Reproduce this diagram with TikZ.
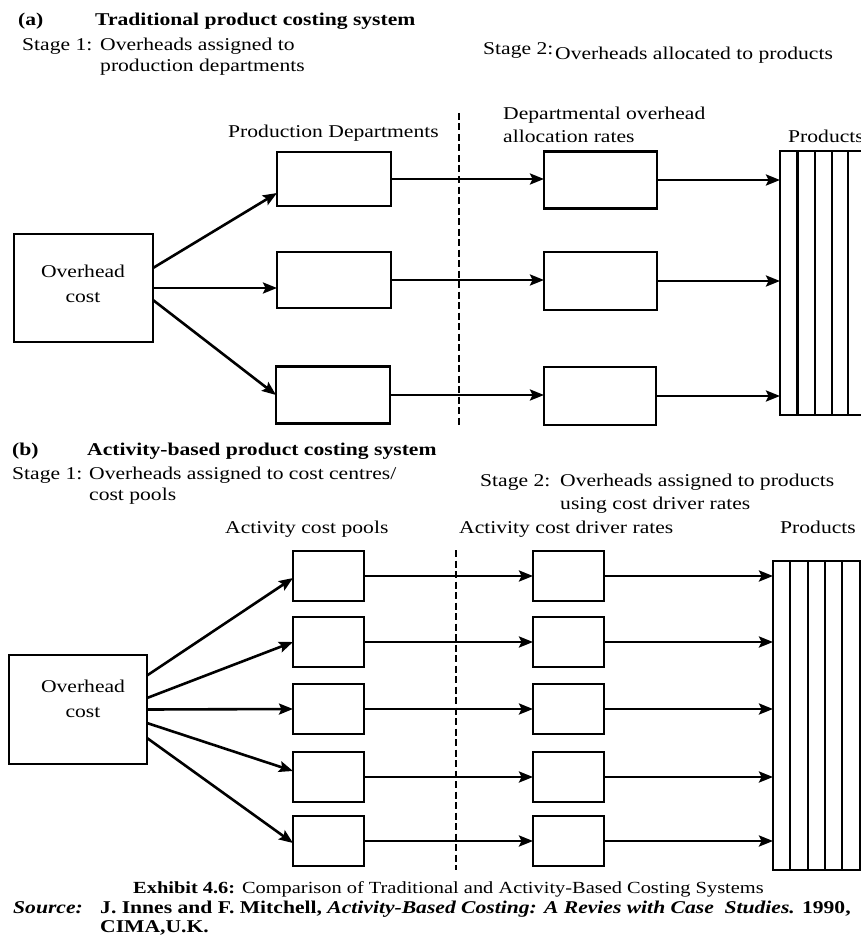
\documentclass[tikz,border=0pt]{standalone}
\usepackage{fontspec}
\setmainfont{Liberation Serif}[FakeStretch=1.2]
\usetikzlibrary{arrows.meta,calc}
\begin{document}
\begin{tikzpicture}[x=1pt,y=-1pt,
  box/.style={draw,line width=2.8pt,inner sep=0pt,outer sep=0pt},
  arr/.style={line width=2.6pt,-{Stealth[length=14pt,width=11pt,inset=2.5pt]}},
  ln/.style={line width=2.5pt},
  dashline/.style={line width=2.8pt,dash pattern=on 7pt off 3.5pt},
  txt/.style={anchor=base west,inner sep=0pt,font=\fontsize{18}{22}\selectfont},
  btxt/.style={anchor=base west,inner sep=0pt,font=\fontsize{18}{22}\selectfont\bfseries},
  ctxt/.style={anchor=base west,inner sep=0pt,font=\fontsize{17}{20}\selectfont}]
\useasboundingbox (0,0) rectangle (861,944);
\clip (0,0) rectangle (861,944);
\fill[white] (0,0) rectangle (861,944);

% ---------------- (a) ----------------
\node[btxt] (la) at (18,26) {(a)};
\node[btxt] (ta) at (95,26) {Traditional product costing system};
\node[txt] (s1a) at (22,51) {Stage 1:};
\node[txt] (s1a1) at (100,51) {Overheads assigned to};
\node[txt] (s1a2) at (100,72) {production departments};
\node[txt] (s2a) at (483,55) {Stage 2:};
\node[txt] (s2a1) at (555,60) {Overheads allocated to products};
\node[txt] (hpd) at (228,138) {Production Departments};
\node[txt] (hdo1) at (503,120) {Departmental overhead};
\node[txt] (hdo2) at (503,143) {allocation rates};
\node[txt] (hpa) at (788,143) {Products};

\node[box,minimum width=139pt,minimum height=108pt] (ovA) at (83.5,288) {};
\node[txt,anchor=base] (ovAt1) at (83,277) {Overhead};
\node[txt,anchor=base] (ovAt2) at (83,302) {cost};

\node[box,minimum width=114pt,minimum height=54pt] (d1) at (334,179) {};
\node[box,minimum width=114pt,minimum height=56pt] (d2) at (334,280) {};
\node[box,minimum width=114pt,minimum height=57pt] (d3) at (333,395) {};

\node[box,minimum width=113pt,minimum height=57pt] (r1) at (600.5,180) {};
\node[box,minimum width=113pt,minimum height=58pt] (r2) at (600.5,281) {};
\node[box,minimum width=112pt,minimum height=58pt] (r3) at (600,396) {};

\node[box,minimum width=100pt,minimum height=264pt] (prodA) at (830,283) {};
\foreach \dx in {17.5,35,52,68,85}
  \draw[ln] ($(prodA.north west)+(\dx,0)$) -- ($(prodA.south west)+(\dx,0)$);

\coordinate (dA1) at (459,113);
\coordinate (dA2) at (459,427);
\draw[dashline] (dA1) -- (dA2);

\draw[arr] ($(ovA.east)+(0,-20)$) -- ($(d1.west)+(0,14)$);
\draw[arr] (ovA.east) -- ($(d2.west)+(0,8)$);
\draw[arr] ($(ovA.east)+(0,12)$) -- (d3.west);
\foreach \i in {1,2,3}{
  \draw[arr] (d\i.east) -- (d\i.east -| r\i.west);
  \draw[arr] (r\i.east) -- (r\i.east -| prodA.west);
}

% ---------------- (b) ----------------
\node[btxt] (lb) at (12,455) {(b)};
\node[btxt] (tb) at (87,455) {Activity-based product costing system};
\node[txt] (s1b) at (12,479) {Stage 1:};
\node[txt] (s1b1) at (89,479) {Overheads assigned to cost centres/};
\node[txt] (s1b2) at (89,500) {cost pools};
\node[txt] (s2b) at (480,486) {Stage 2:};
\node[txt] (s2b1) at (560,486) {Overheads assigned to products};
\node[txt] (s2b2) at (560,509) {using cost driver rates};
\node[txt] (hcp) at (225,533) {Activity cost pools};
\node[txt] (hcd) at (459,533) {Activity cost driver rates};
\node[txt] (hpb) at (780,533) {Products};

\node[box,minimum width=138pt,minimum height=109pt] (ovB) at (78,709.5) {};
\node[txt,anchor=base] (ovBt1) at (83,692) {Overhead};
\node[txt,anchor=base] (ovBt2) at (83,717) {cost};

\foreach \i/\y in {1/576,2/642,3/709,4/777,5/841}{
  \node[box,minimum width=71pt,minimum height=50pt] (p\i) at (328.5,\y) {};
  \node[box,minimum width=71pt,minimum height=50pt] (q\i) at (568.5,\y) {};
}

\node[box,minimum width=100pt,minimum height=309pt] (prodB) at (823,715.5) {};
\foreach \dx in {17,35,52,69,87}
  \draw[ln] ($(prodB.north west)+(\dx,0)$) -- ($(prodB.south west)+(\dx,0)$);

\coordinate (dB1) at (456,550);
\coordinate (dB2) at (456,870);
\draw[dashline] (dB1) -- (dB2);

\draw[arr] ($(ovB.east)+(0,-34)$) -- ($(p1.west)+(0,2)$);
\draw[arr] ($(ovB.east)+(0,-11.5)$) -- (p2.west);
\draw[arr] (ovB.east) -- (p3.west);
\draw[arr] ($(ovB.east)+(0,13.5)$) -- ($(p4.west)+(0,-6)$);
\draw[arr] ($(ovB.east)+(0,28.5)$) -- ($(p5.west)+(0,2)$);
\foreach \i in {1,...,5}{
  \draw[arr] (p\i.east) -- (q\i.west);
  \draw[arr] (q\i.east) -- (q\i.east -| prodB.west);
}

% ---------------- caption ----------------
\node[ctxt] (cap) at (133,893) {\textbf{Exhibit 4.6:} Comparison of Traditional and Activity-Based Costing Systems};
\node[btxt] (src) at (13,913) {\itshape Source:};
\node[btxt] (ref1) at (100,913) {J. Innes and F. Mitchell, \textit{Activity-Based Costing: A Revies with Case\ \ Studies.} 1990,};
\node[btxt] (ref2) at (100,932) {CIMA,U.K.};
\end{tikzpicture}
\end{document}
